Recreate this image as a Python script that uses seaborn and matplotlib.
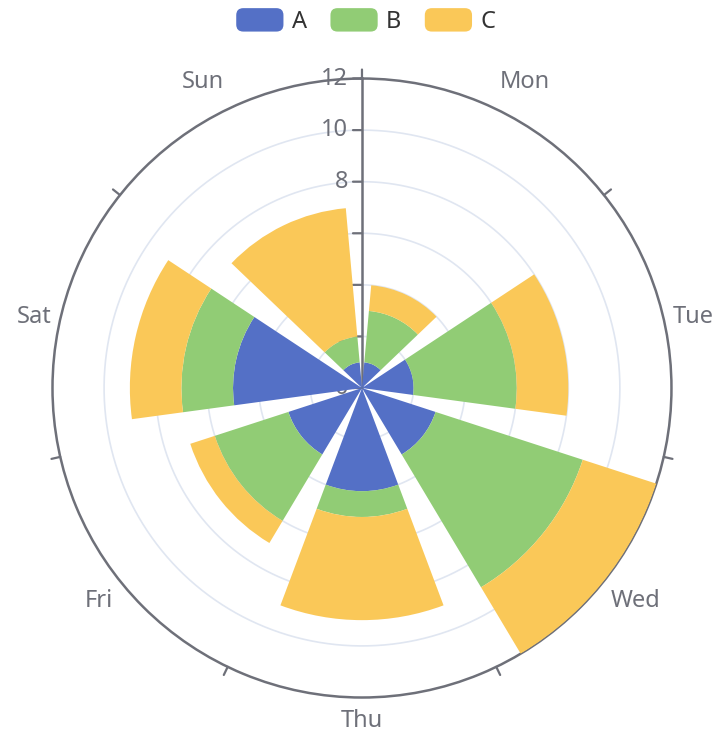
import numpy as np
import pandas as pd
import seaborn as sns
import matplotlib
matplotlib.use("Agg")
import matplotlib.pyplot as plt
from matplotlib.transforms import offset_copy
from matplotlib.patches import FancyBboxPatch, Patch
from matplotlib.legend_handler import HandlerPatch

# Weekly values per series, stacked radially
days = ["Mon", "Tue", "Wed", "Thu", "Fri", "Sat", "Sun"]
series_a = [1, 2, 3, 4, 3, 5, 1]
series_b = [2, 4, 6, 1, 3, 2, 1]
series_c = [1, 2, 3, 4, 1, 2, 5]
series_names = ["A", "B", "C"]
radius_ticks = [0, 2, 4, 6, 8, 10, 12]

sns.set_theme(style="white")
plt.rcParams["font.family"] = ["Noto Sans", "DejaVu Sans"]
palette = sns.color_palette(["#5470c6", "#91cc75", "#fac858"])
axis_color = "#6E7079"
split_color = "#E0E6F1"
font_size = 17

df = pd.DataFrame({"day": days, "A": series_a, "B": series_b, "C": series_c})

fig = plt.figure(figsize=(7.2, 7.36), dpi=100)
ax = fig.add_axes([0.0729, 0.0523, 0.8597, 0.841], projection="polar")
ax.set_theta_zero_location("N")
ax.set_theta_direction(-1)
ax.set_ylim(0, radius_ticks[-1])
ax.grid(False)
ax.set_xticks([])
ax.set_yticks([])
ax.spines["polar"].set_color(axis_color)
ax.spines["polar"].set_linewidth(1.8)

n = len(days)
band = 2 * np.pi / n
theta = (np.arange(n) + 0.5) * band

# concentric split lines
circle = np.linspace(0, 2 * np.pi, 400)
for r in radius_ticks[1:-1]:
    ax.plot(circle, np.full_like(circle, r), color=split_color, lw=1.2, zorder=1)

# radius axis line, ticks and labels
ax.plot([0, 0], [0, radius_ticks[-1]], color=axis_color, lw=1.8, zorder=2)
for r in radius_ticks:
    ax.annotate("", xy=(0, r), xytext=(-9, 0), textcoords="offset pixels",
                arrowprops=dict(arrowstyle="-", color=axis_color, lw=1.6,
                                shrinkA=0, shrinkB=0),
                annotation_clip=False, zorder=2)
    ax.text(0, r, str(r), transform=offset_copy(ax.transData, fig, x=-14, y=0, units="dots"),
            ha="right", va="center", fontsize=font_size, color=axis_color, zorder=2)

# stacked bars
bottom = np.zeros(n)
for name, color in zip(series_names, palette):
    vals = df[name].to_numpy(dtype=float)
    ax.bar(theta, vals, width=band * 0.8, bottom=bottom, color=color,
           linewidth=0, zorder=3, label=name)
    bottom += vals

# angle axis ticks (outward) at category boundaries
rmax = radius_ticks[-1]
for k in range(n):
    t = k * band
    ax.annotate("", xy=(t, rmax), xytext=(9 * np.sin(t), 9 * np.cos(t)),
                textcoords="offset pixels",
                arrowprops=dict(arrowstyle="-", color=axis_color, lw=1.6,
                                shrinkA=0, shrinkB=0),
                annotation_clip=False, zorder=4)

# angle axis labels
for t, day in zip(theta, days):
    s, c = np.sin(t), np.cos(t)
    ha = "center" if abs(s) < 0.3 else ("left" if s > 0 else "right")
    va = "center" if abs(c) < 0.3 else ("bottom" if c > 0 else "top")
    dy = 9 * c + (7 if va == "bottom" else (-2 if va == "top" else 0))
    ax.text(t, rmax, day, transform=offset_copy(ax.transData, fig, x=9 * s, y=dy, units="dots"),
            ha=ha, va=va, fontsize=font_size, color=axis_color, clip_on=False)


class RoundedHandler(HandlerPatch):
    def create_artists(self, legend, orig_handle, xdescent, ydescent,
                       width, height, fontsize, trans):
        p = FancyBboxPatch((-xdescent, -ydescent), width, height,
                           boxstyle=f"round,pad=0,rounding_size={height * 0.3}",
                           facecolor=orig_handle.get_facecolor(), edgecolor="none",
                           transform=trans)
        return [p]


handles = [Patch(facecolor=col, label=name) for name, col in zip(series_names, palette)]
fig.legend(handles=handles, loc="center", bbox_to_anchor=(0.508, 1 - 21 / 736), ncol=3,
           frameon=False, fontsize=font_size, handlelength=2.0, handleheight=1.15,
           handletextpad=0.35, columnspacing=1.0, labelcolor="#333333",
           handler_map={Patch: RoundedHandler()})

fig.savefig("out.png", dpi=100)
